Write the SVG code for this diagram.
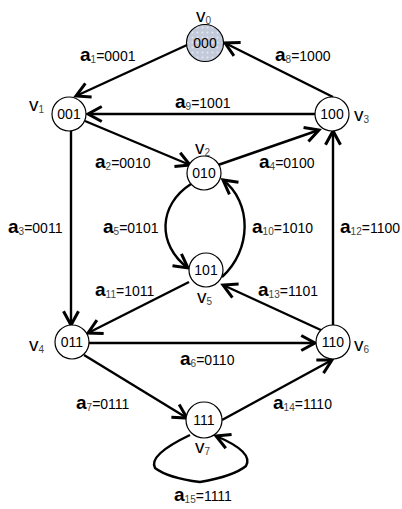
<svg xmlns="http://www.w3.org/2000/svg" width="402" height="509" viewBox="0 0 402 509">
<style>
.node circle{fill:#fff;stroke:#000;stroke-width:1.2}
.nt{font-family:"Liberation Sans",Arial,sans-serif;font-size:14px;text-anchor:middle;fill:#000}
.vl{font-family:"Liberation Sans",Arial,sans-serif;font-size:19px;fill:#000}
.el{font-family:"Liberation Sans",Arial,sans-serif;font-size:14px;fill:#000}
.big{font-size:19px;font-weight:bold}
.sub{font-size:10px;fill:#444;font-weight:normal}
.edge{fill:none;stroke:#000;stroke-width:2.4;marker-end:url(#arr)}
</style>
<defs>
<marker id="arr" markerUnits="userSpaceOnUse" markerWidth="20" markerHeight="20" viewBox="-12 -8 14 16" refX="0" refY="0" orient="auto">
<path d="M-11,-6 L0,0 L-11,6" fill="none" stroke="#000" stroke-width="2.4"/>
</marker>
<pattern id="dots" patternUnits="userSpaceOnUse" width="5" height="5">
<rect width="5" height="5" fill="#c3cbdb"/>
<circle cx="2.5" cy="2.5" r="1" fill="#e4e8f0"/>
</pattern>
</defs>
<g id="connectors">
<line class="edge" x1="187" y1="45" x2="76" y2="96"/>
<line class="edge" x1="333" y1="97" x2="225" y2="43"/>
<line class="edge" x1="315" y1="114" x2="88" y2="114"/>
<line class="edge" x1="85" y1="121" x2="190" y2="165"/>
<line class="edge" x1="218" y1="165" x2="319" y2="130"/>
<line class="edge" x1="71" y1="131" x2="71" y2="325"/>
<line class="edge" x1="333" y1="325" x2="333" y2="131"/>
<path class="edge" d="M191,184 C158,205 157,245 188,268"/>
<path class="edge" d="M222,277 C252,250 252,202 223,180"/>
<line class="edge" x1="189" y1="282" x2="88" y2="333"/>
<line class="edge" x1="323" y1="331" x2="223" y2="285"/>
<line class="edge" x1="89" y1="343" x2="315" y2="343"/>
<line class="edge" x1="84" y1="355" x2="187" y2="418"/>
<line class="edge" x1="222" y1="420" x2="332" y2="360"/>
<path class="edge" d="M190,435 Q148,455 155,468 Q168,478 200,482 Q234,476 246,466 Q254,452 216,436"/>
</g>
<g id="v0" class="node">
<circle cx="205" cy="43" r="18.5" style="fill:url(#dots)"/>
<text class="nt" x="205" y="48">000</text>
<text class="vl" x="196" y="22">v<tspan class="sub" dy="2">0</tspan></text>
</g>
<g id="v1" class="node">
<circle cx="69" cy="114" r="17"/>
<text class="nt" x="69" y="119">001</text>
<text class="vl" x="29" y="111">v<tspan class="sub" dy="2">1</tspan></text>
</g>
<g id="v3" class="node">
<circle cx="332" cy="114" r="17"/>
<text class="nt" x="332" y="119">100</text>
<text class="vl" x="354" y="121">v<tspan class="sub" dy="2">3</tspan></text>
</g>
<g id="v2" class="node">
<circle cx="204" cy="173" r="17"/>
<text class="nt" x="204" y="178">010</text>
<text class="vl" x="195" y="154">v<tspan class="sub" dy="2">2</tspan></text>
</g>
<g id="v5" class="node">
<circle cx="206" cy="270" r="17"/>
<text class="nt" x="206" y="275">101</text>
<text class="vl" x="197" y="303">v<tspan class="sub" dy="2">5</tspan></text>
</g>
<g id="v4" class="node">
<circle cx="72" cy="342" r="17"/>
<text class="nt" x="72" y="347">011</text>
<text class="vl" x="29" y="351">v<tspan class="sub" dy="2">4</tspan></text>
</g>
<g id="v6" class="node">
<circle cx="333" cy="342" r="17"/>
<text class="nt" x="333" y="347">110</text>
<text class="vl" x="354" y="351">v<tspan class="sub" dy="2">6</tspan></text>
</g>
<g id="v7" class="node">
<circle cx="204" cy="420" r="18"/>
<text class="nt" x="204" y="425">111</text>
<text class="vl" x="195" y="453">v<tspan class="sub" dy="2">7</tspan></text>
</g>
<g id="labels">
<text class="el" x="80" y="61"><tspan class="big">a</tspan><tspan class="sub" dy="2">1</tspan><tspan dy="-2">=0001</tspan></text>
<text class="el" x="275" y="61"><tspan class="big">a</tspan><tspan class="sub" dy="2">8</tspan><tspan dy="-2">=1000</tspan></text>
<text class="el" x="175" y="108"><tspan class="big">a</tspan><tspan class="sub" dy="2">9</tspan><tspan dy="-2">=1001</tspan></text>
<text class="el" x="95" y="168"><tspan class="big">a</tspan><tspan class="sub" dy="2">2</tspan><tspan dy="-2">=0010</tspan></text>
<text class="el" x="259" y="168"><tspan class="big">a</tspan><tspan class="sub" dy="2">4</tspan><tspan dy="-2">=0100</tspan></text>
<text class="el" x="8" y="233"><tspan class="big">a</tspan><tspan class="sub" dy="2">3</tspan><tspan dy="-2">=0011</tspan></text>
<text class="el" x="103" y="233"><tspan class="big">a</tspan><tspan class="sub" dy="2">5</tspan><tspan dy="-2">=0101</tspan></text>
<text class="el" x="252" y="233"><tspan class="big">a</tspan><tspan class="sub" dy="2">10</tspan><tspan dy="-2">=1010</tspan></text>
<text class="el" x="340" y="233"><tspan class="big">a</tspan><tspan class="sub" dy="2">12</tspan><tspan dy="-2">=1100</tspan></text>
<text class="el" x="95" y="296"><tspan class="big">a</tspan><tspan class="sub" dy="2">11</tspan><tspan dy="-2">=1011</tspan></text>
<text class="el" x="258" y="296"><tspan class="big">a</tspan><tspan class="sub" dy="2">13</tspan><tspan dy="-2">=1101</tspan></text>
<text class="el" x="180" y="365"><tspan class="big">a</tspan><tspan class="sub" dy="2">6</tspan><tspan dy="-2">=0110</tspan></text>
<text class="el" x="76" y="409"><tspan class="big">a</tspan><tspan class="sub" dy="2">7</tspan><tspan dy="-2">=0111</tspan></text>
<text class="el" x="273" y="409"><tspan class="big">a</tspan><tspan class="sub" dy="2">14</tspan><tspan dy="-2">=1110</tspan></text>
<text class="el" x="174" y="501"><tspan class="big">a</tspan><tspan class="sub" dy="2">15</tspan><tspan dy="-2">=1111</tspan></text>
</g>
</svg>
